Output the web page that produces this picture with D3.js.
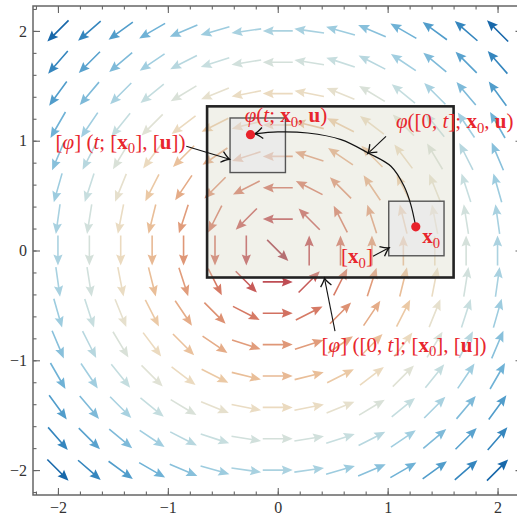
<html>
<head>
<title>Flow field</title>
<script src="https://d3js.org/d3.v7.min.js"></script>
<style>
body { margin: 0; background: #fff; }
text { font-family: "Liberation Serif", serif; }
</style>
</head>
<body>
<svg id="chart" width="517" height="515"></svg>
<script>
// grid of the arrows
var gridX = [-2, -1.714, -1.429, -1.143, -0.857, -0.571, -0.286, 0, 0.286, 0.571, 0.857, 1.143, 1.429, 1.714, 2];
var gridY = [2, 1.714, 1.429, 1.143, 0.857, 0.571, 0.286, 0, -0.286, -0.571, -0.857, -1.143, -1.429, -1.714, -2];

// arrow direction in degrees (counter-clockwise from +x), rows top to bottom
var angles = [
  [225,221,216,210,203,196,188,180,172,164,157,150,144,139,135],
  [229,225,220,214,207,198,189,180,171,162,153,146,140,135,131],
  [234,230,225,219,211,202,191,180,169,158,149,141,135,130,126],
  [240,236,231,225,217,207,194,180,166,153,143,135,129,124,120],
  [247,243,239,233,225,214,198,180,162,146,135,127,121,117,113],
  [254,252,248,243,236,225,207,180,153,135,124,117,112,108,106],
  [262,261,259,256,252,243,225,180,135,117,108,104,101,99,98],
  [270,270,270,270,270,270,270,315,90,90,90,90,90,90,90],
  [278,279,281,284,288,297,315,0,45,63,72,76,79,81,82],
  [286,288,292,297,304,315,333,0,27,45,56,63,68,72,74],
  [293,297,301,307,315,326,342,0,18,34,45,53,59,63,67],
  [300,304,309,315,323,333,346,0,14,27,37,45,51,56,60],
  [306,310,315,321,329,338,349,0,11,22,31,39,45,50,54],
  [311,315,320,326,333,342,351,0,9,18,27,34,40,45,49],
  [315,319,324,330,337,344,352,0,8,16,23,30,36,41,45]
];

// magnitude of the field (sets the colour), rows top to bottom
var speed = [
  [2.83,2.63,2.46,2.30,2.18,2.08,2.02,2.00,2.02,2.08,2.18,2.30,2.46,2.63,2.83],
  [2.63,2.42,2.23,2.06,1.92,1.81,1.74,1.71,1.74,1.81,1.92,2.06,2.23,2.42,2.63],
  [2.46,2.23,2.02,1.83,1.67,1.54,1.46,1.43,1.46,1.54,1.67,1.83,2.02,2.23,2.46],
  [2.30,2.06,1.83,1.62,1.43,1.28,1.18,1.14,1.18,1.28,1.43,1.62,1.83,2.06,2.30],
  [2.18,1.92,1.67,1.43,1.21,1.03,0.90,0.86,0.90,1.03,1.21,1.43,1.67,1.92,2.18],
  [2.08,1.81,1.54,1.28,1.03,0.81,0.64,0.57,0.64,0.81,1.03,1.28,1.54,1.81,2.08],
  [2.02,1.74,1.46,1.18,0.90,0.64,0.40,0.29,0.40,0.64,0.90,1.18,1.46,1.74,2.02],
  [2.00,1.71,1.43,1.14,0.86,0.57,0.29,0.02,0.29,0.57,0.86,1.14,1.43,1.71,2.00],
  [2.02,1.74,1.46,1.18,0.90,0.64,0.40,0.29,0.40,0.64,0.90,1.18,1.46,1.74,2.02],
  [2.08,1.81,1.54,1.28,1.03,0.81,0.64,0.57,0.64,0.81,1.03,1.28,1.54,1.81,2.08],
  [2.18,1.92,1.67,1.43,1.21,1.03,0.90,0.86,0.90,1.03,1.21,1.43,1.67,1.92,2.18],
  [2.30,2.06,1.83,1.62,1.43,1.28,1.18,1.14,1.18,1.28,1.43,1.62,1.83,2.06,2.30],
  [2.46,2.23,2.02,1.83,1.67,1.54,1.46,1.43,1.46,1.54,1.67,1.83,2.02,2.23,2.46],
  [2.63,2.42,2.23,2.06,1.92,1.81,1.74,1.71,1.74,1.81,1.92,2.06,2.23,2.42,2.63],
  [2.83,2.63,2.46,2.30,2.18,2.08,2.02,2.00,2.02,2.08,2.18,2.30,2.46,2.63,2.83]
];

var majorTicks = [-2, -1, 0, 1, 2];
var minorTicks = [-2.2,-2,-1.8,-1.6,-1.4,-1.2,-1,-0.8,-0.6,-0.4,-0.2,0,0.2,0.4,0.6,0.8,1,1.2,1.4,1.6,1.8,2,2.2];

// boxes and points of the annotation
var outerBox = [-0.643, 1.60, -0.246, 1.313];
var boxStart = [1.01, 1.513, -0.048, 0.449];
var boxEnd = [-0.434, 0.07, 0.71, 1.207];
var x0 = [1.256, 0.216];
var xt = [-0.248, 1.055];
var trajectory = [[1.256,0.216],[1.21,0.42],[1.15,0.585],[1.03,0.767],[0.82,0.89],[0.576,1.01],[0.273,1.07],[0,1.08],[-0.21,1.062]];

// labels: [x, y, anchor, parts]
var labels = [
  [0.075, 1.169, "middle", [["φ","i"],["(",""],["t","i"],["; ",""],["x","b"],["0","s"],[", ",""],["u","b"],[")",""]]],
  [1.61, 1.112, "middle", [["φ","i"],["([0, ",""],["t","i"],["]; ",""],["x","b"],["0","s"],[", ",""],["u","b"],[")",""]]],
  [-1.431, 0.928, "middle", [["[",""],["φ","i"],["] (",""],["t","i"],["; [",""],["x","b"],["0","s"],["], [",""],["u","b"],["])",""]]],
  [1.315, 0.068, "start", [["x","b"],["0","s"]]],
  [0.721, -0.118, "middle", [["[",""],["x","b"],["0","s"],["]",""]]],
  [1.149, -0.924, "middle", [["[",""],["φ","i"],["] ([0, ",""],["t","i"],["]; [",""],["x","b"],["0","s"],["], [",""],["u","b"],["])",""]]]
];

// pointer arrows: [from, to]
var pointers = [
  [[-0.832, 0.949], [-0.438, 0.831]],
  [[0.985, 1.040], [0.819, 0.883]],
  [[0.867, -0.052], [1.013, 0.025]],
  [[0.521, -0.734], [0.425, -0.252]]
];

var svg = d3.select("#chart");
var x = d3.scaleLinear().domain([-2.227, 2.227]).range([33, 522.5]);
var y = d3.scaleLinear().domain([-2.227, 2.227]).range([495, 6]);

var color = d3.scaleLinear()
  .domain([0, 0.3, 0.6, 0.85, 1.05, 1.25, 1.45, 1.6, 1.8, 2.05, 2.3, 2.5, 2.7, 2.85])
  .range(["#a23545","#c04e55","#d47562","#df9676","#e6ae8a","#ebc6a0","#ebdcc2","#e2e2d4","#c9dfdf","#a3cfe0","#6fb2d6","#4a98c8","#2a7cb8","#1565a8"])
  .clamp(true);

svg.append("rect").attr("width", 517).attr("height", 515).attr("fill", "#fff");

// arrow shape, pivot in the middle
var L = 30, sw = 0.8, hl = 11, ha = 9.5, hw = 4.6;
var arrowPath = "M" + (-L/2) + "," + (-sw) + "L" + (L/2 - ha) + "," + (-sw) + "L" + (L/2 - hl) + "," + (-hw) +
  "L" + (L/2) + ",0L" + (L/2 - hl) + "," + hw + "L" + (L/2 - ha) + "," + sw + "L" + (-L/2) + "," + sw + "Z";

var cells = [];
gridY.forEach(function(gy, r) {
  gridX.forEach(function(gx, c) {
    cells.push({x: gx, y: gy, a: angles[r][c], s: speed[r][c]});
  });
});

svg.append("g").selectAll("path").data(cells).enter().append("path")
  .attr("d", arrowPath)
  .attr("transform", function(d) { return "translate(" + x(d.x) + "," + y(d.y) + ") rotate(" + (-d.a) + ")"; })
  .attr("fill", function(d) { return color(d.s); });

// axes with inward ticks
var fmt = d3.format("d");
function tickStyle(g) {
  g.select(".domain").remove();
  g.selectAll("line").attr("stroke", "#666").attr("stroke-width", 1.1);
  g.selectAll("text").attr("fill", "#333").style("font-size", "16px").style("font-family", "Liberation Serif, serif");
}
svg.append("g").attr("transform", "translate(0,495)")
  .call(d3.axisBottom(x).tickValues(majorTicks).tickFormat(fmt).tickSize(-7).tickPadding(7)).call(tickStyle);
svg.append("g").attr("transform", "translate(0,495)")
  .call(d3.axisBottom(x).tickValues(minorTicks).tickSize(-3.5).tickFormat("")).call(tickStyle);
svg.append("g").attr("transform", "translate(33,0)")
  .call(d3.axisLeft(y).tickValues(majorTicks).tickFormat(fmt).tickSize(-7).tickPadding(6)).call(tickStyle);
svg.append("g").attr("transform", "translate(33,0)")
  .call(d3.axisLeft(y).tickValues(minorTicks).tickSize(-3.5).tickFormat("")).call(tickStyle);
svg.append("g").attr("transform", "translate(0,6)")
  .call(d3.axisTop(x).tickValues(majorTicks).tickSize(-7).tickFormat("")).call(tickStyle);
svg.append("g").attr("transform", "translate(0,6)")
  .call(d3.axisTop(x).tickValues(minorTicks).tickSize(-3.5).tickFormat("")).call(tickStyle);
svg.append("g").attr("transform", "translate(522.5,0)")
  .call(d3.axisRight(y).tickValues(majorTicks).tickSize(-7).tickFormat("")).call(tickStyle);
svg.append("g").attr("transform", "translate(522.5,0)")
  .call(d3.axisRight(y).tickValues(minorTicks).tickSize(-3.5).tickFormat("")).call(tickStyle);
svg.append("rect").attr("x", 33).attr("y", 6).attr("width", 489.5).attr("height", 489)
  .attr("fill", "none").attr("stroke", "#666").attr("stroke-width", 1.5);

// boxes
function box(b, fill, op, stroke, w) {
  svg.append("rect")
    .attr("x", x(b[0])).attr("y", y(b[3]))
    .attr("width", x(b[1]) - x(b[0])).attr("height", y(b[2]) - y(b[3]))
    .attr("fill", fill).attr("fill-opacity", op)
    .attr("stroke", stroke).attr("stroke-width", w);
}
box(outerBox, "#d8d8c4", 0.35, "#222", 2.6);
box(boxStart, "#e6e6ea", 0.5, "#555", 1.4);
box(boxEnd, "#e6e6ea", 0.5, "#555", 1.4);

// open arrow head
svg.append("defs").append("marker")
  .attr("id", "head").attr("markerUnits", "userSpaceOnUse")
  .attr("viewBox", "-10 -7 12 14").attr("markerWidth", 12).attr("markerHeight", 14)
  .attr("refX", 0).attr("refY", 0).attr("orient", "auto")
  .append("path").attr("d", "M-8,-5.5Q-3,-1.2 0,0Q-3,1.2 -8,5.5")
  .attr("fill", "none").attr("stroke", "#111").attr("stroke-width", 1.3);

var line = d3.line().x(function(d) { return x(d[0]); }).y(function(d) { return y(d[1]); }).curve(d3.curveCatmullRom);
svg.append("path").attr("d", line(trajectory)).attr("fill", "none")
  .attr("stroke", "#111").attr("stroke-width", 1.2).attr("marker-end", "url(#head)");

pointers.forEach(function(p) {
  svg.append("line")
    .attr("x1", x(p[0][0])).attr("y1", y(p[0][1]))
    .attr("x2", x(p[1][0])).attr("y2", y(p[1][1]))
    .attr("stroke", "#111").attr("stroke-width", 1.1).attr("marker-end", "url(#head)");
});

svg.selectAll("circle.pt").data([x0, xt]).enter().append("circle")
  .attr("cx", function(d) { return x(d[0]); }).attr("cy", function(d) { return y(d[1]); })
  .attr("r", 4.6).attr("fill", "#e8222b");

// math labels
var fs = 21;
labels.forEach(function(l) {
  var t = svg.append("text").attr("x", x(l[0])).attr("y", y(l[1]))
    .attr("text-anchor", l[2]).attr("fill", "#e8262d").style("font-size", fs + "px");
  var sub = false;
  l[3].forEach(function(p) {
    var ts = t.append("tspan").text(p[0]);
    if (p[1] == "i") ts.style("font-style", "italic");
    if (p[1] == "b") ts.style("font-weight", "bold");
    if (p[1] == "s") { ts.attr("dy", 4.5).style("font-size", (fs * 0.7) + "px"); sub = true; }
    else if (sub) { ts.attr("dy", -4.5); sub = false; }
  });
});
</script>
</body>
</html>
